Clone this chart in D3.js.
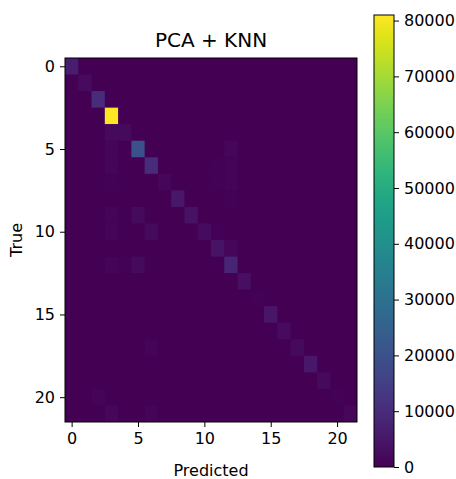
<!DOCTYPE html>
<html>
<head>
<meta charset="utf-8">
<script src="https://cdn.jsdelivr.net/npm/d3@7"></script>
<style>
  body { margin: 0; background: #fff; }
  text { font-family: "DejaVu Sans", sans-serif; fill: #000; }
  .axis path, .axis line { stroke: #000; }
</style>
</head>
<body>
<svg id="chart" width="456" height="479"></svg>
<script>
// class labels 0..21
const classes = d3.range(22);
// counts on the diagonal (true == predicted)
const diagonal = [6500, 2500, 10000, 81000, 2000, 20000, 10000, 1500, 5000, 3500, 2500,
                  4000, 8000, 3000, 600, 4500, 2500, 2000, 5000, 2000, 500, 1500];
// off-diagonal counts [true, predicted, count]
const offDiag = [
  [4, 3, 2000], [5, 3, 1000], [6, 3, 1000], [7, 3, 600],
  [5, 12, 1500], [6, 12, 700], [7, 12, 700], [8, 12, 600], [6, 11, 500], [7, 11, 500],
  [9, 5, 2000], [10, 6, 2000], [9, 3, 800], [10, 3, 800],
  [12, 5, 2000], [12, 3, 700], [12, 4, 600], [11, 12, 1500], [10, 11, 600],
  [17, 6, 700], [20, 2, 700], [21, 3, 1500], [21, 6, 800]
];
const xTicks = [0, 5, 10, 15, 20];
const yTicks = [0, 5, 10, 15, 20];
const cbTicks = d3.range(0, 80001, 10000);

let cells = [];
classes.forEach(r => classes.forEach(c => cells.push({ r: r, c: c, v: r == c ? diagonal[r] : 0 })));
offDiag.forEach(d => { cells.find(e => e.r == d[0] && e.c == d[1]).v = d[2]; });

const vmax = d3.max(cells, d => d.v);
const color = d3.scaleSequential(d3.interpolateViridis).domain([0, vmax]);

const svg = d3.select('#chart');
const pLeft = 65, pRight = 357, pTop = 58, pBottom = 422;

const x = d3.scaleLinear().domain([-0.5, classes.length - 0.5]).range([pLeft, pRight]);
const y = d3.scaleLinear().domain([-0.5, classes.length - 0.5]).range([pTop, pBottom]);

// background first so that no seams show between cells
svg.append('rect')
  .attr('x', pLeft).attr('y', pTop)
  .attr('width', pRight - pLeft).attr('height', pBottom - pTop)
  .attr('fill', color(0));

svg.append('g').selectAll('rect')
  .data(cells.filter(d => d.v > 0))
  .join('rect')
  .attr('x', d => x(d.c - 0.5))
  .attr('y', d => y(d.r - 0.5))
  .attr('width', x(1) - x(0))
  .attr('height', y(1) - y(0))
  .attr('fill', d => color(d.v));

svg.append('rect')
  .attr('x', pLeft).attr('y', pTop)
  .attr('width', pRight - pLeft).attr('height', pBottom - pTop)
  .attr('fill', 'none').attr('stroke', '#000').attr('stroke-width', 1);

const xAxis = svg.append('g').attr('class', 'axis')
  .attr('transform', `translate(0,${pBottom})`)
  .call(d3.axisBottom(x).tickValues(xTicks).tickSize(5).tickPadding(6));
xAxis.select('.domain').remove();
xAxis.selectAll('text').style('font-size', '16px').attr('fill', '#000');

const yAxis = svg.append('g').attr('class', 'axis')
  .attr('transform', `translate(${pLeft},0)`)
  .call(d3.axisLeft(y).tickValues(yTicks).tickSize(5).tickPadding(5));
yAxis.select('.domain').remove();
yAxis.selectAll('text').style('font-size', '16px').attr('fill', '#000');

svg.append('text')
  .attr('x', (pLeft + pRight) / 2).attr('y', 47)
  .attr('text-anchor', 'middle')
  .style('font-size', '20px')
  .text('PCA + KNN');

svg.append('text')
  .attr('x', (pLeft + pRight) / 2).attr('y', 476)
  .attr('text-anchor', 'middle')
  .style('font-size', '16px')
  .text('Predicted');

svg.append('text')
  .attr('transform', `translate(22,${(pTop + pBottom) / 2}) rotate(-90)`)
  .attr('text-anchor', 'middle')
  .style('font-size', '16px')
  .text('True');

// colorbar
const cbLeft = 374, cbW = 20, cbTop = 15, cbBottom = 467;
const cbScale = d3.scaleLinear().domain([0, vmax]).range([cbBottom, cbTop]);

const grad = svg.append('defs').append('linearGradient')
  .attr('id', 'cbgrad')
  .attr('x1', 0).attr('y1', 1).attr('x2', 0).attr('y2', 0);
grad.selectAll('stop')
  .data(d3.range(0, 1.001, 0.05))
  .join('stop')
  .attr('offset', d => d)
  .attr('stop-color', d => d3.interpolateViridis(d));

svg.append('rect')
  .attr('x', cbLeft).attr('y', cbTop)
  .attr('width', cbW).attr('height', cbBottom - cbTop)
  .attr('fill', 'url(#cbgrad)')
  .attr('stroke', '#000').attr('stroke-width', 1);

const cbAxis = svg.append('g').attr('class', 'axis')
  .attr('transform', `translate(${cbLeft + cbW},0)`)
  .call(d3.axisRight(cbScale).tickValues(cbTicks).tickFormat(d3.format('d')).tickSize(5).tickPadding(5));
cbAxis.select('.domain').remove();
cbAxis.selectAll('text').style('font-size', '16px').attr('fill', '#000');
</script>
</body>
</html>
